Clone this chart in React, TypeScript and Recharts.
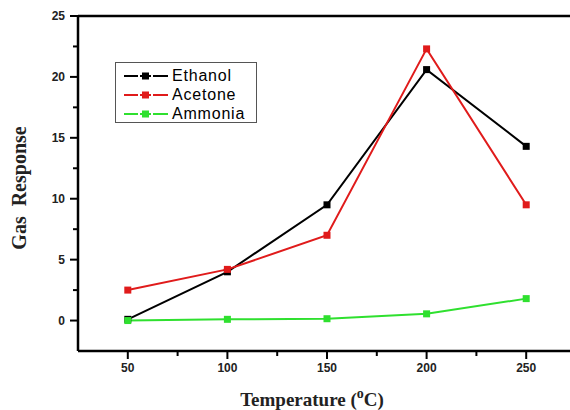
import { LineChart, Line, XAxis, YAxis, ReferenceLine } from 'recharts';

const temps = [50, 100, 150, 200, 250];
const ethanol = [0.1, 4.0, 9.5, 20.6, 14.3];
const acetone = [2.5, 4.2, 7.0, 22.3, 9.5];
const ammonia = [0.0, 0.1, 0.15, 0.55, 1.8];

const xTicks = [50, 75, 100, 125, 150, 175, 200, 225, 250];
const yTicks = [0, 2.5, 5, 7.5, 10, 12.5, 15, 17.5, 20, 22.5, 25];

const series = [
  { key: 'ethanol', name: 'Ethanol', color: '#000000' },
  { key: 'acetone', name: 'Acetone', color: '#e01b1b' },
  { key: 'ammonia', name: 'Ammonia', color: '#2fe02f' },
];

const data = temps.map((t, i) => ({
  t,
  ethanol: ethanol[i],
  acetone: acetone[i],
  ammonia: ammonia[i],
}));

const tickFont = { fontFamily: 'Liberation Sans, Arial, sans-serif', fontWeight: 700, fontSize: 12, fill: '#222' };

const SquareDot = (color: string) => (props: any) => {
  const { cx, cy } = props;
  if (cx == null || cy == null) return <g />;
  return <rect x={cx - 3.5} y={cy - 3.5} width={7} height={7} fill={color} />;
};

const YTick = (props: any) => {
  const { x, y, payload } = props;
  const major = payload.value % 5 === 0;
  return (
    <g>
      <line x1={x - (major ? 8 : 5)} x2={x} y1={y} y2={y} stroke="#000" strokeWidth={2} />
      {major && (
        <text x={x - 13} y={y + 4} textAnchor="end" {...tickFont}>{payload.value}</text>
      )}
    </g>
  );
};

const XTick = (props: any) => {
  const { x, y, payload } = props;
  const major = payload.value % 50 === 0;
  return (
    <g>
      <line x1={x} x2={x} y1={y} y2={y + (major ? 8 : 5)} stroke="#000" strokeWidth={2} />
      {major && (
        <text x={x} y={y + 21} textAnchor="middle" {...tickFont}>{payload.value}</text>
      )}
    </g>
  );
};

export default function App() {
  return (
    <div style={{ position: 'absolute', left: 0, top: 0, width: 570, height: 410, overflow: 'hidden', background: '#fff' }}>
      <LineChart width={600} height={410} data={data} margin={{ top: 16, right: 24, left: 18, bottom: 19 }}>
        <XAxis
          dataKey="t"
          type="number"
          domain={[25, 275]}
          ticks={xTicks}
          tick={<XTick />}
          tickSize={0}
          tickMargin={0}
          height={40}
          axisLine={{ stroke: '#000', strokeWidth: 2.5 }}
          interval={0}
        />
        <YAxis
          type="number"
          domain={[-2.5, 25]}
          ticks={yTicks}
          tick={<YTick />}
          tickSize={0}
          tickMargin={0}
          width={60}
          axisLine={{ stroke: '#000', strokeWidth: 2.5 }}
          interval={0}
          allowDataOverflow
        />
        <ReferenceLine y={25} stroke="#000" strokeWidth={2.5} />
        {series.map((s) => (
          <Line
            key={s.key}
            dataKey={s.key}
            name={s.name}
            stroke={s.color}
            strokeWidth={2}
            dot={SquareDot(s.color)}
            activeDot={false}
            isAnimationActive={false}
          />
        ))}
        <text
          x={26}
          y={188}
          transform="rotate(-90 26 188)"
          textAnchor="middle"
          style={{ whiteSpace: 'pre' }}
          fontFamily="Liberation Serif, Times New Roman, serif"
          fontWeight={700}
          fontSize={20}
          fill="#222"
        >
          {'Gas  Response'}
        </text>
        <text
          x={312}
          y={406}
          textAnchor="middle"
          fontFamily="Liberation Serif, Times New Roman, serif"
          fontWeight={700}
          fontSize={19}
          fill="#222"
        >
          Temperature (<tspan dy={-8} fontSize={14}>o</tspan><tspan dy={8}>C)</tspan>
        </text>
      </LineChart>
      <div
        style={{
          position: 'absolute',
          left: 115,
          top: 62,
          width: 142,
          height: 61,
          border: '1px solid #555',
          boxSizing: 'border-box',
          padding: '3px 0 0 8px',
          fontFamily: 'Liberation Sans, Arial, sans-serif',
          fontSize: 16,
          letterSpacing: 0.8,
          lineHeight: '19px',
        }}
      >
        {series.map((s) => (
          <div key={s.key} style={{ display: 'flex', alignItems: 'center' }}>
            <svg width={44} height={10} style={{ marginRight: 4 }}>
              <line x1={0} x2={44} y1={5} y2={5} stroke={s.color} strokeWidth={2} />
              <rect x={18} y={1.5} width={7} height={7} fill={s.color} />
              <line x1={14} x2={16} y1={5} y2={5} stroke="#fff" strokeWidth={2} />
              <line x1={27} x2={29} y1={5} y2={5} stroke="#fff" strokeWidth={2} />
            </svg>
            <span>{s.name}</span>
          </div>
        ))}
      </div>
    </div>
  );
}
